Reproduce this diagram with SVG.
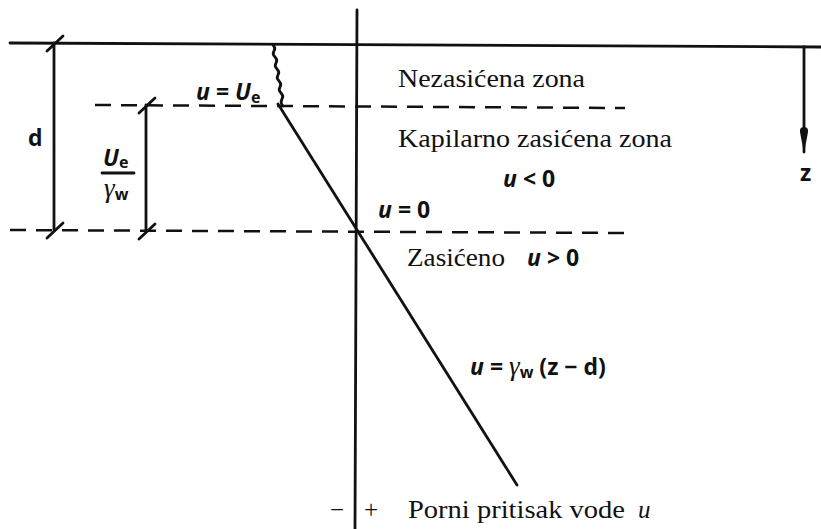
<svg xmlns="http://www.w3.org/2000/svg" width="821" height="529" viewBox="0 0 821 529">
<defs>
<style>
.ln{stroke:#111;stroke-width:2.8;fill:none;stroke-linecap:round}
.ds{stroke:#111;stroke-width:2.5;fill:none;stroke-dasharray:16 10}
.sr{font-family:"Liberation Serif","DejaVu Serif",serif;font-size:25px;fill:#111}
.ma{font-family:"Open Sans","DejaVu Sans",sans-serif;font-weight:700;font-size:23px;fill:#111}
.sub{font-size:16px}
.gm{font-family:"Liberation Serif",serif;font-style:italic;font-weight:400}
</style>
<marker id="ah" viewBox="0 0 26 9" refX="25" refY="4.5" markerWidth="26" markerHeight="9" markerUnits="userSpaceOnUse" orient="auto">
<path d="M0,4.5 Q0,0 5,0.5 L26,4.5 L5,8.5 Q0,9 0,4.5 Z" fill="#111"/>
</marker>
</defs>
<rect width="821" height="529" fill="#fff"/>
<g id="connectors">
<line class="ln" x1="10" y1="43" x2="821" y2="47"/>
<line class="ln" x1="357" y1="10" x2="355" y2="529"/>
<line class="ds" x1="95" y1="105" x2="625" y2="108"/>
<line class="ds" x1="10" y1="230" x2="625" y2="233"/>
<line class="ln" x1="54" y1="43" x2="54" y2="230"/>
<line class="ln" x1="47" y1="51" x2="63" y2="36"/>
<line class="ln" x1="47" y1="238" x2="63" y2="223"/>
<line class="ln" x1="146" y1="105" x2="146" y2="231"/>
<line class="ln" x1="139" y1="113" x2="155" y2="98"/>
<line class="ln" x1="139" y1="239" x2="155" y2="224"/>
<path class="ln" stroke-width="2.6" d="M273,45 q3,3 1,6 q-2,3 1,6 q3,3 1,6 q-2,3 1,6 q3,3 1,6 q-2,3 1,6 q3,3 1,6 q-2,3 1,6 q3,3 1,6 q-2,4 1,7"/>
<line class="ln" x1="278" y1="104" x2="517" y2="485"/>
<line class="ln" x1="804" y1="47" x2="804" y2="152" marker-end="url(#ah)"/>
</g>
<g id="label-d"><text class="ma" x="28" y="146">d</text></g>
<g id="label-fraction">
<text class="ma" x="103" y="166"><tspan font-style="italic">U</tspan><tspan class="sub" dy="2">e</tspan></text>
<line class="ln" x1="102" y1="173" x2="134" y2="173" stroke-width="2.2"/>
<text class="ma" x="104" y="197"><tspan class="gm" font-size="27">γ</tspan><tspan class="sub" dy="3">w</tspan></text>
</g>
<g id="label-ue"><text class="ma" x="196" y="100"><tspan font-style="italic">u</tspan> = <tspan font-style="italic">U</tspan><tspan class="sub" dy="3">e</tspan></text></g>
<g id="zone-unsat"><text class="sr" x="398" y="87" textLength="187" lengthAdjust="spacingAndGlyphs">Nezasićena zona</text></g>
<g id="zone-cap">
<text class="sr" x="398" y="147" textLength="274" lengthAdjust="spacingAndGlyphs">Kapilarno zasićena zona</text>
<text class="ma" x="503" y="187"><tspan font-style="italic">u</tspan> &lt; 0</text>
</g>
<g id="label-u0"><text class="ma" x="378" y="218"><tspan font-style="italic">u</tspan> = 0</text></g>
<g id="zone-sat">
<text class="sr" x="407" y="266" textLength="98" lengthAdjust="spacingAndGlyphs">Zasićeno</text>
<text class="ma" x="527" y="266"><tspan font-style="italic">u</tspan> &gt; 0</text>
</g>
<g id="label-line"><text class="ma" x="470" y="375"><tspan font-style="italic">u</tspan> = <tspan class="gm" font-size="27">γ</tspan><tspan class="sub" dy="3">w</tspan><tspan dy="-3"> (z − d)</tspan></text></g>
<g id="label-z"><text class="ma" x="800" y="181">z</text></g>
<g id="axis-label">
<text class="sr" x="330" y="518" font-size="30">−</text>
<text class="sr" x="364" y="518" font-size="30">+</text>
<text class="sr" x="408" y="518" textLength="217" lengthAdjust="spacingAndGlyphs">Porni pritisak vode</text>
<text class="sr" x="638" y="518" font-style="italic">u</text>
</g>
</svg>
